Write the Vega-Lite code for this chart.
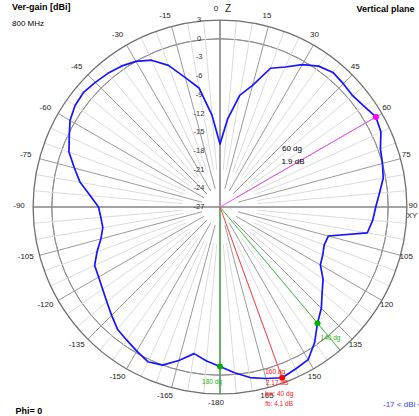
{
  "$schema": "https://vega.github.io/schema/vega-lite/v6.json",
  "width": 396,
  "height": 396,
  "autosize": "none",
  "padding": {"left": 22, "top": 9, "right": 1, "bottom": 11},
  "background": "white",
  "config": {"view": {"stroke": null}, "font": "Liberation Sans", "text": {"font": "Liberation Sans"}},
  "datasets": {
    "rings": [{"db": 3}, {"db": 0}, {"db": -3}, {"db": -6}, {"db": -9}, {"db": -12}, {"db": -15}, {"db": -18}, {"db": -21}, {"db": -24}, {"db": -27}],
    "pattern": [
      {"a": -180, "g": -1.4}, {"a": -175, "g": -2.2}, {"a": -170, "g": -3.1}, {"a": -165, "g": -1.5}, {"a": -160, "g": 0.0},
      {"a": -155, "g": 0.4}, {"a": -150, "g": -0.3}, {"a": -145, "g": -0.9}, {"a": -140, "g": -1.4}, {"a": -135, "g": -2.4},
      {"a": -130, "g": -3.3}, {"a": -125, "g": -4.0}, {"a": -120, "g": -4.5}, {"a": -115, "g": -4.8}, {"a": -110, "g": -6.0},
      {"a": -105, "g": -7.2}, {"a": -100, "g": -7.9}, {"a": -95, "g": -7.8}, {"a": -90, "g": -7.5}, {"a": -85, "g": -6.1},
      {"a": -80, "g": -4.2}, {"a": -75, "g": -2.8}, {"a": -70, "g": -1.2}, {"a": -65, "g": -0.3}, {"a": -60, "g": 0.8},
      {"a": -55, "g": 1.4}, {"a": -50, "g": 1.6}, {"a": -45, "g": 1.3}, {"a": -40, "g": 1.0}, {"a": -35, "g": 0.6},
      {"a": -30, "g": 0.0}, {"a": -25, "g": -1.0}, {"a": -20, "g": -2.8}, {"a": -15, "g": -5.5}, {"a": -10, "g": -7.6},
      {"a": -5, "g": -12.2}, {"a": 0, "g": -16.9}, {"a": 5, "g": -12.8}, {"a": 10, "g": -8.8}, {"a": 15, "g": -6.8},
      {"a": 20, "g": -3.3}, {"a": 25, "g": -2.2}, {"a": 30, "g": -0.6}, {"a": 35, "g": 0.6}, {"a": 40, "g": 1.2},
      {"a": 45, "g": 1.0}, {"a": 50, "g": 0.8}, {"a": 55, "g": 1.2}, {"a": 60, "g": 1.9}, {"a": 65, "g": 1.5},
      {"a": 70, "g": 0.4}, {"a": 75, "g": 0.0}, {"a": 80, "g": -0.4}, {"a": 85, "g": -1.3}, {"a": 90, "g": -2.0},
      {"a": 95, "g": -2.4}, {"a": 100, "g": -3.0}, {"a": 105, "g": -9.0}, {"a": 110, "g": -9.2}, {"a": 115, "g": -8.8},
      {"a": 120, "g": -8.4}, {"a": 125, "g": -6.8}, {"a": 130, "g": -5.6}, {"a": 135, "g": -4.0}, {"a": 140, "g": -2.65},
      {"a": 145, "g": -0.5}, {"a": 150, "g": 1.3}, {"a": 155, "g": 1.7}, {"a": 160, "g": 2.17}, {"a": 165, "g": 1.5},
      {"a": 170, "g": 0.8}, {"a": 175, "g": -0.3}, {"a": 180, "g": -1.4}
    ],
    "minor": [{"a": 5}, {"a": 10}, {"a": 20}, {"a": 25}, {"a": 35}, {"a": 40}, {"a": 50}, {"a": 55}, {"a": 65}, {"a": 70}, {"a": 80}, {"a": 85}, {"a": 95}, {"a": 100}, {"a": 110}, {"a": 115}, {"a": 125}, {"a": 130}, {"a": 140}, {"a": 145}, {"a": 155}, {"a": 160}, {"a": 170}, {"a": 175}, {"a": -5}, {"a": -10}, {"a": -20}, {"a": -25}, {"a": -35}, {"a": -40}, {"a": -50}, {"a": -55}, {"a": -65}, {"a": -70}, {"a": -80}, {"a": -85}, {"a": -95}, {"a": -100}, {"a": -110}, {"a": -115}, {"a": -125}, {"a": -130}, {"a": -140}, {"a": -145}, {"a": -155}, {"a": -160}, {"a": -170}, {"a": -175}],
    "major": [{"a": 15}, {"a": 30}, {"a": 45}, {"a": 60}, {"a": 75}, {"a": 105}, {"a": 120}, {"a": 135}, {"a": 150}, {"a": 165}, {"a": -15}, {"a": -30}, {"a": -45}, {"a": -60}, {"a": -75}, {"a": -105}, {"a": -120}, {"a": -135}, {"a": -150}, {"a": -165}],
    "alabels": [{"a": 0}, {"a": 15}, {"a": 30}, {"a": 45}, {"a": 60}, {"a": 75}, {"a": 90}, {"a": 105}, {"a": 120}, {"a": 135}, {"a": 150}, {"a": 165}, {"a": -180}, {"a": -165}, {"a": -150}, {"a": -135}, {"a": -120}, {"a": -105}, {"a": -90}, {"a": -75}, {"a": -60}, {"a": -45}, {"a": -30}, {"a": -15}],
    "markers": [{"k": "max", "a": 60, "g": 1.9}, {"k": "front", "a": 160, "g": 2.17}, {"k": "half", "a": 140, "g": -2.65}, {"k": "back", "a": 180, "g": -1.4}],
    "redtext": [{"a": 160, "g": 2.17, "t1": "160 dg", "t2": "2.17 dB", "t3": "bw: 40 dg", "t4": "fb: 4.1 dB"}]
  },
  "layer": [
    {
      "data": {"name": "rings"},
      "transform": [{"filter": "datum.db > -27 && datum.db < 3"}, {"calculate": "(datum.db+27)*6.23", "as": "rp"}],
      "mark": {"type": "arc", "theta": 0, "theta2": 6.2832, "fill": "white", "fillOpacity": 0, "stroke": "#8e8e8e", "strokeWidth": 1},
      "encoding": {"radius": {"field": "rp", "type": "quantitative", "scale": null}}
    },
    {
      "data": {"name": "minor"},
      "transform": [
        {"calculate": "37.4*sin(datum.a*PI/180)", "as": "x1"},
        {"calculate": "37.4*cos(datum.a*PI/180)", "as": "y1"},
        {"calculate": "186.9*sin(datum.a*PI/180)", "as": "x2"},
        {"calculate": "186.9*cos(datum.a*PI/180)", "as": "y2"}
      ],
      "mark": {"type": "rule", "stroke": "#dcdcdc", "strokeWidth": 1},
      "encoding": {
        "x": {"field": "x1", "type": "quantitative", "scale": {"domain": [-198, 198], "nice": false, "zero": false},
          "axis": {"orient": "top", "domain": false, "ticks": false, "labels": false, "grid": false, "title": "Vertical plane", "titleX": 334, "titleY": 2.5, "titleAlign": "left", "titleBaseline": "alphabetic", "titleAngle": 0, "titleFontSize": 9, "titleFontWeight": "bold", "titleColor": "black", "titleFont": "Liberation Sans"}},
        "y": {"field": "y1", "type": "quantitative", "scale": {"domain": [-198, 198], "nice": false, "zero": false},
          "axis": {"orient": "left", "domain": false, "ticks": false, "labels": false, "grid": false, "title": "Phi= 0", "titleX": -7, "titleY": 404, "titleAlign": "left", "titleBaseline": "alphabetic", "titleAngle": 0, "titleFontSize": 9, "titleFontWeight": "bold", "titleColor": "black", "titleFont": "Liberation Sans"}},
        "x2": {"field": "x2"},
        "y2": {"field": "y2"}
      }
    },
    {
      "data": {"name": "major"},
      "transform": [
        {"calculate": "18.7*sin(datum.a*PI/180)", "as": "x1"},
        {"calculate": "18.7*cos(datum.a*PI/180)", "as": "y1"},
        {"calculate": "186.9*sin(datum.a*PI/180)", "as": "x2"},
        {"calculate": "186.9*cos(datum.a*PI/180)", "as": "y2"}
      ],
      "mark": {"type": "rule", "stroke": "#9a9a9a", "strokeWidth": 1},
      "encoding": {
        "x": {"field": "x1", "type": "quantitative"},
        "y": {"field": "y1", "type": "quantitative"},
        "x2": {"field": "x2"},
        "y2": {"field": "y2"}
      }
    },
    {
      "data": {"values": [{"a": 0}, {"a": 90}]},
      "transform": [
        {"calculate": "-186.9*sin(datum.a*PI/180)", "as": "x1"},
        {"calculate": "-186.9*cos(datum.a*PI/180)", "as": "y1"},
        {"calculate": "186.9*sin(datum.a*PI/180)", "as": "x2"},
        {"calculate": "186.9*cos(datum.a*PI/180)", "as": "y2"}
      ],
      "mark": {"type": "rule", "stroke": "#858585", "strokeWidth": 1.6},
      "encoding": {
        "x": {"field": "x1", "type": "quantitative"},
        "y": {"field": "y1", "type": "quantitative"},
        "x2": {"field": "x2"},
        "y2": {"field": "y2"}
      }
    },
    {
      "data": {"name": "rings"},
      "transform": [{"filter": "datum.db == 3"}, {"calculate": "(datum.db+27)*6.23", "as": "rp"}],
      "mark": {"type": "arc", "theta": 0, "theta2": 6.2832, "fill": "white", "fillOpacity": 0, "stroke": "#6e6e6e", "strokeWidth": 1.3},
      "encoding": {"radius": {"field": "rp", "type": "quantitative", "scale": null}}
    },
    {
      "data": {"name": "alabels"},
      "transform": [
        {"calculate": "197*sin(datum.a*PI/180)", "as": "x"},
        {"calculate": "197*cos(datum.a*PI/180)", "as": "y"}
      ],
      "mark": {"type": "text", "fontSize": 8, "color": "#222222", "align": "center", "baseline": "middle", "dx": -4, "dy": -1},
      "encoding": {
        "x": {"field": "x", "type": "quantitative"},
        "y": {"field": "y", "type": "quantitative"},
        "text": {"field": "a", "type": "nominal"}
      }
    },
    {
      "data": {"values": [{"a": 0, "t": "Z"}]},
      "transform": [
        {"calculate": "197*sin(datum.a*PI/180)", "as": "x"},
        {"calculate": "197*cos(datum.a*PI/180)", "as": "y"}
      ],
      "mark": {"type": "text", "fontSize": 10, "color": "#222222", "align": "center", "baseline": "middle", "dx": 8, "dy": -1},
      "encoding": {
        "x": {"field": "x", "type": "quantitative"},
        "y": {"field": "y", "type": "quantitative"},
        "text": {"field": "t", "type": "nominal"}
      }
    },
    {
      "data": {"values": [{"a": 90, "t": "XY"}]},
      "transform": [
        {"calculate": "197*sin(datum.a*PI/180)", "as": "x"},
        {"calculate": "197*cos(datum.a*PI/180)", "as": "y"}
      ],
      "mark": {"type": "text", "fontSize": 8, "color": "#222222", "align": "center", "baseline": "middle", "dx": -5, "dy": 9},
      "encoding": {
        "x": {"field": "x", "type": "quantitative"},
        "y": {"field": "y", "type": "quantitative"},
        "text": {"field": "t", "type": "nominal"}
      }
    },
    {
      "data": {"name": "rings"},
      "transform": [{"calculate": "(datum.db+27)*6.23", "as": "rp"}, {"calculate": "0", "as": "x0"}],
      "mark": {"type": "text", "fontSize": 7.5, "color": "#333333", "align": "center", "baseline": "middle", "dx": -21},
      "encoding": {
        "x": {"field": "x0", "type": "quantitative"},
        "y": {"field": "rp", "type": "quantitative"},
        "text": {"field": "db", "type": "nominal"}
      }
    },
    {
      "data": {"values": [{"a": 140}, {"a": 180}]},
      "transform": [
        {"calculate": "0", "as": "x1"},
        {"calculate": "0", "as": "y1"},
        {"calculate": "186.9*sin(datum.a*PI/180)", "as": "x2"},
        {"calculate": "186.9*cos(datum.a*PI/180)", "as": "y2"}
      ],
      "mark": {"type": "rule", "stroke": "#44c044", "strokeWidth": 1},
      "encoding": {
        "x": {"field": "x1", "type": "quantitative"},
        "y": {"field": "y1", "type": "quantitative"},
        "x2": {"field": "x2"},
        "y2": {"field": "y2"}
      }
    },
    {
      "data": {"name": "markers"},
      "transform": [
        {"filter": "datum.k == 'max'"},
        {"calculate": "(datum.g+27)*6.23", "as": "rp"},
        {"calculate": "0", "as": "x1"},
        {"calculate": "0", "as": "y1"},
        {"calculate": "datum.rp*sin(datum.a*PI/180)", "as": "x2"},
        {"calculate": "datum.rp*cos(datum.a*PI/180)", "as": "y2"}
      ],
      "mark": {"type": "rule", "stroke": "#ff55ff", "strokeWidth": 1},
      "encoding": {
        "x": {"field": "x1", "type": "quantitative"},
        "y": {"field": "y1", "type": "quantitative"},
        "x2": {"field": "x2"},
        "y2": {"field": "y2"}
      }
    },
    {
      "data": {"name": "markers"},
      "transform": [
        {"filter": "datum.k == 'front'"},
        {"calculate": "(datum.g+27)*6.23", "as": "rp"},
        {"calculate": "0", "as": "x1"},
        {"calculate": "0", "as": "y1"},
        {"calculate": "datum.rp*sin(datum.a*PI/180)", "as": "x2"},
        {"calculate": "datum.rp*cos(datum.a*PI/180)", "as": "y2"}
      ],
      "mark": {"type": "rule", "stroke": "#ff4040", "strokeWidth": 1},
      "encoding": {
        "x": {"field": "x1", "type": "quantitative"},
        "y": {"field": "y1", "type": "quantitative"},
        "x2": {"field": "x2"},
        "y2": {"field": "y2"}
      }
    },
    {
      "data": {"name": "pattern"},
      "transform": [
        {"calculate": "(datum.g+27)*6.23", "as": "rp"},
        {"calculate": "datum.rp*sin(datum.a*PI/180)", "as": "x"},
        {"calculate": "datum.rp*cos(datum.a*PI/180)", "as": "y"}
      ],
      "mark": {"type": "line", "strokeWidth": 1.7, "strokeJoin": "round"},
      "encoding": {
        "x": {"field": "x", "type": "quantitative"},
        "y": {"field": "y", "type": "quantitative"},
        "order": {"field": "a", "type": "quantitative"},
        "color": {"datum": "-17 < dBi < 2", "type": "nominal", "scale": {"range": ["#1414ff"]},
          "legend": {"orient": "none", "legendX": 347, "legendY": 392, "title": null, "symbolOpacity": 0, "symbolSize": 0, "symbolStrokeWidth": 0, "labelFontSize": 8, "labelColor": "#4040ff", "labelFont": "Liberation Sans", "padding": 0, "labelOffset": 6}}
      }
    },
    {
      "data": {"name": "markers"},
      "transform": [
        {"calculate": "(datum.g+27)*6.23", "as": "rp"},
        {"calculate": "datum.rp*sin(datum.a*PI/180)", "as": "x"},
        {"calculate": "datum.rp*cos(datum.a*PI/180)", "as": "y"}
      ],
      "mark": {"type": "point", "filled": true, "opacity": 1, "size": 36},
      "encoding": {
        "x": {"field": "x", "type": "quantitative"},
        "y": {"field": "y", "type": "quantitative"},
        "fill": {"field": "k", "type": "nominal", "scale": {"domain": ["max", "front", "half", "back"], "range": ["#ff00ff", "#ff0000", "#00b000", "#00b000"]}, "legend": null},
        "shape": {"datum": "800 MHz", "type": "nominal", "scale": {"range": ["circle"]},
          "legend": {"orient": "none", "legendX": -10, "legendY": -6, "title": "Ver-gain [dBi]", "titleFontSize": 9, "titleFontWeight": "bold", "titleColor": "black", "titleFont": "Liberation Sans", "titlePadding": 8, "symbolOpacity": 0, "symbolSize": 0, "symbolStrokeWidth": 0, "labelFontSize": 8, "labelColor": "black", "labelFont": "Liberation Sans", "padding": 0, "labelOffset": -8}}
      }
    },
    {
      "data": {"values": [{"a": 60, "g": 1.9, "t": "60 dg"}]},
      "transform": [
        {"calculate": "(datum.g+27)*6.23/2", "as": "rm"},
        {"calculate": "datum.rm*sin(datum.a*PI/180)", "as": "x"},
        {"calculate": "datum.rm*cos(datum.a*PI/180)", "as": "y"}
      ],
      "mark": {"type": "text", "fontSize": 8, "color": "black", "align": "center", "baseline": "middle", "dx": -6, "dy": -13},
      "encoding": {
        "x": {"field": "x", "type": "quantitative"},
        "y": {"field": "y", "type": "quantitative"},
        "text": {"field": "t", "type": "nominal"}
      }
    },
    {
      "data": {"values": [{"a": 60, "g": 1.9, "t": "1.9 dB"}]},
      "transform": [
        {"calculate": "(datum.g+27)*6.23/2", "as": "rm"},
        {"calculate": "datum.rm*sin(datum.a*PI/180)", "as": "x"},
        {"calculate": "datum.rm*cos(datum.a*PI/180)", "as": "y"}
      ],
      "mark": {"type": "text", "fontSize": 8, "color": "black", "align": "center", "baseline": "middle", "dx": -5, "dy": 0},
      "encoding": {
        "x": {"field": "x", "type": "quantitative"},
        "y": {"field": "y", "type": "quantitative"},
        "text": {"field": "t", "type": "nominal"}
      }
    },
    {
      "data": {"name": "redtext"},
      "transform": [
        {"calculate": "(datum.g+27)*6.23", "as": "rp"},
        {"calculate": "datum.rp*sin(datum.a*PI/180)", "as": "x"},
        {"calculate": "datum.rp*cos(datum.a*PI/180)", "as": "y"}
      ],
      "mark": {"type": "text", "fontSize": 6.5, "color": "#ff2020", "align": "center", "baseline": "middle", "dx": -7, "dy": -6},
      "encoding": {
        "x": {"field": "x", "type": "quantitative"},
        "y": {"field": "y", "type": "quantitative"},
        "text": {"field": "t1", "type": "nominal"}
      }
    },
    {
      "data": {"name": "redtext"},
      "transform": [
        {"calculate": "(datum.g+27)*6.23", "as": "rp"},
        {"calculate": "datum.rp*sin(datum.a*PI/180)", "as": "x"},
        {"calculate": "datum.rp*cos(datum.a*PI/180)", "as": "y"}
      ],
      "mark": {"type": "text", "fontSize": 6.5, "color": "#ff2020", "align": "center", "baseline": "middle", "dx": -5, "dy": 5},
      "encoding": {
        "x": {"field": "x", "type": "quantitative"},
        "y": {"field": "y", "type": "quantitative"},
        "text": {"field": "t2", "type": "nominal"}
      }
    },
    {
      "data": {"name": "redtext"},
      "transform": [
        {"calculate": "(datum.g+27)*6.23", "as": "rp"},
        {"calculate": "datum.rp*sin(datum.a*PI/180)", "as": "x"},
        {"calculate": "datum.rp*cos(datum.a*PI/180)", "as": "y"}
      ],
      "mark": {"type": "text", "fontSize": 6.5, "color": "#ff2020", "align": "center", "baseline": "middle", "dx": -3, "dy": 16},
      "encoding": {
        "x": {"field": "x", "type": "quantitative"},
        "y": {"field": "y", "type": "quantitative"},
        "text": {"field": "t3", "type": "nominal"}
      }
    },
    {
      "data": {"name": "redtext"},
      "transform": [
        {"calculate": "(datum.g+27)*6.23", "as": "rp"},
        {"calculate": "datum.rp*sin(datum.a*PI/180)", "as": "x"},
        {"calculate": "datum.rp*cos(datum.a*PI/180)", "as": "y"}
      ],
      "mark": {"type": "text", "fontSize": 6.5, "color": "#ff2020", "align": "center", "baseline": "middle", "dx": -3, "dy": 26},
      "encoding": {
        "x": {"field": "x", "type": "quantitative"},
        "y": {"field": "y", "type": "quantitative"},
        "text": {"field": "t4", "type": "nominal"}
      }
    },
    {
      "data": {"values": [{"a": 180, "g": -1.4, "t": "180 dg"}]},
      "transform": [
        {"calculate": "(datum.g+27)*6.23", "as": "rp"},
        {"calculate": "datum.rp*sin(datum.a*PI/180)", "as": "x"},
        {"calculate": "datum.rp*cos(datum.a*PI/180)", "as": "y"}
      ],
      "mark": {"type": "text", "fontSize": 6.5, "color": "#20b020", "align": "center", "baseline": "middle", "dx": -8, "dy": 16},
      "encoding": {
        "x": {"field": "x", "type": "quantitative"},
        "y": {"field": "y", "type": "quantitative"},
        "text": {"field": "t", "type": "nominal"}
      }
    },
    {
      "data": {"values": [{"a": 140, "g": -2.65, "t": "140 dg"}]},
      "transform": [
        {"calculate": "(datum.g+27)*6.23", "as": "rp"},
        {"calculate": "datum.rp*sin(datum.a*PI/180)", "as": "x"},
        {"calculate": "datum.rp*cos(datum.a*PI/180)", "as": "y"}
      ],
      "mark": {"type": "text", "fontSize": 6.5, "color": "#20b020", "align": "center", "baseline": "middle", "dx": 13, "dy": 15},
      "encoding": {
        "x": {"field": "x", "type": "quantitative"},
        "y": {"field": "y", "type": "quantitative"},
        "text": {"field": "t", "type": "nominal"}
      }
    }
  ]
}
